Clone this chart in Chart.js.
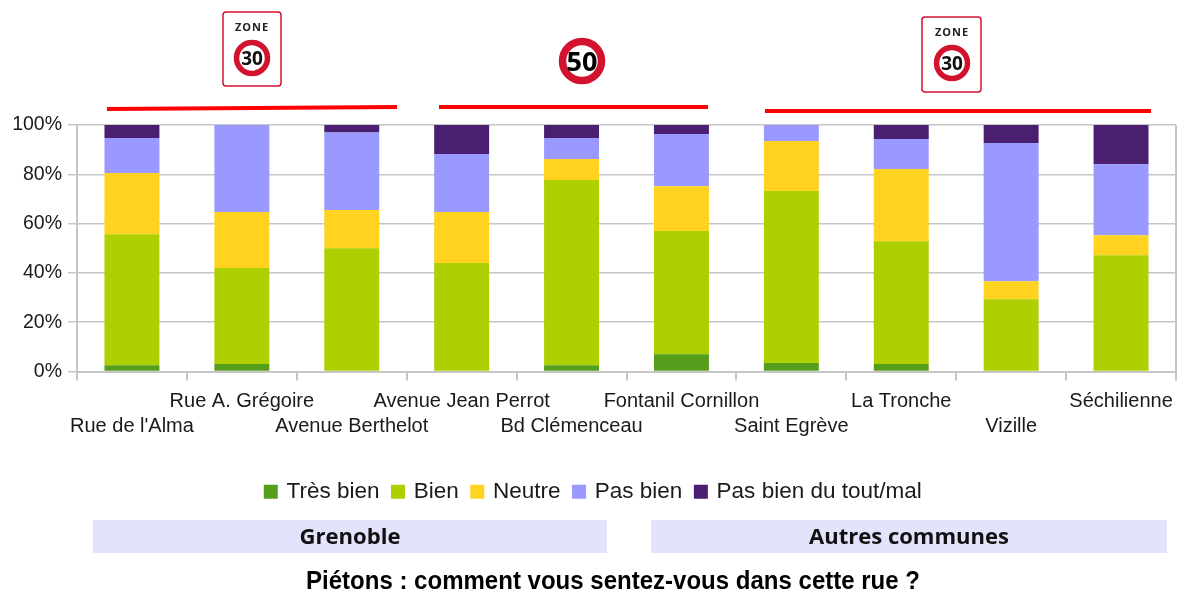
<!DOCTYPE html>
<html lang="fr">
<head>
<meta charset="utf-8">
<title>Piétons : comment vous sentez-vous dans cette rue ?</title>
<script src="https://cdn.jsdelivr.net/npm/chart.js@4"></script>
<style>
  html, body { margin: 0; padding: 0; background: #fff; }
  #wrap { position: relative; width: 1179px; height: 595px; overflow: hidden; }
  #chart { position: absolute; left: 0; top: 0; }
  #overlay { position: absolute; left: 0; top: 0; }
</style>
</head>
<body>
<div id="wrap">
  <canvas id="chart" width="1179" height="595"></canvas>
  <svg id="overlay" width="1179" height="595" xmlns="http://www.w3.org/2000/svg">
    <!-- speed signs -->
    <g id="sign1">
      <rect x="223" y="12" width="58" height="74" rx="3" fill="#fff" stroke="#d2122e" stroke-width="1.5"/>
      <text x="252" y="31" text-anchor="middle" font-family="Open Sans" font-weight="bold" font-size="11" letter-spacing="1" fill="#222">ZONE</text>
      <circle cx="252" cy="58" r="15.5" fill="#fff" stroke="#d2122e" stroke-width="5.5"/>
      <text x="252" y="65" text-anchor="middle" font-family="Open Sans" font-weight="bold" font-size="19" fill="#111">30</text>
    </g>
    <g id="sign2">
      <circle cx="582" cy="61" r="19.5" fill="#fff" stroke="#d2122e" stroke-width="7.5"/>
      <text x="582" y="71" text-anchor="middle" font-family="Open Sans" font-weight="bold" font-size="27" fill="#000">50</text>
    </g>
    <g id="sign3">
      <rect x="922" y="17" width="59" height="75" rx="3" fill="#fff" stroke="#d2122e" stroke-width="1.5"/>
      <text x="952" y="36" text-anchor="middle" font-family="Open Sans" font-weight="bold" font-size="11" letter-spacing="1" fill="#222">ZONE</text>
      <circle cx="952" cy="63" r="15.5" fill="#fff" stroke="#d2122e" stroke-width="5.5"/>
      <text x="952" y="70" text-anchor="middle" font-family="Open Sans" font-weight="bold" font-size="19" fill="#111">30</text>
    </g>
    <!-- red speed-zone lines -->
    <line x1="107" y1="109" x2="397" y2="107" stroke="#f00" stroke-width="4"/>
    <line x1="439" y1="107" x2="708" y2="107" stroke="#f00" stroke-width="4"/>
    <line x1="765" y1="111" x2="1151" y2="111" stroke="#f00" stroke-width="4"/>
    <!-- group bands -->
    <rect x="93" y="520" width="514" height="33" fill="#e3e3fb"/>
    <rect x="651" y="520" width="516" height="33" fill="#e3e3fb"/>
    <text x="350" y="544" text-anchor="middle" font-family="Open Sans" font-weight="bold" font-size="22" textLength="101" lengthAdjust="spacingAndGlyphs" fill="#111">Grenoble</text>
    <text x="909" y="544" text-anchor="middle" font-family="Open Sans" font-weight="bold" font-size="22" textLength="200" lengthAdjust="spacingAndGlyphs" fill="#111">Autres communes</text>
    <text x="613" y="589" text-anchor="middle" font-family="Liberation Sans" font-weight="bold" font-size="26" textLength="614" lengthAdjust="spacingAndGlyphs" fill="#000">Piétons : comment vous sentez-vous dans cette rue ?</text>
  </svg>
</div>
<script>
const rues = ["Rue de l'Alma", 'Rue A. Grégoire', 'Avenue Berthelot', 'Avenue Jean Perrot', 'Bd Clémenceau',
  'Fontanil Cornillon', 'Saint Egrève', 'La Tronche', 'Vizille', 'Séchilienne'];

const tresBien = [2.5, 3, 0, 0, 2.5, 7, 3.4, 3, 0, 0];
const bien = [53.2, 39, 50, 44, 75.2, 50, 69.8, 49.8, 29.3, 47.2];
const neutre = [24.8, 22.7, 15.5, 20.7, 8.5, 18.2, 20.3, 29.3, 7.3, 8.1];
const pasBien = [14.2, 35.3, 31.5, 23.5, 8.5, 21.1, 6.5, 12.2, 56.1, 28.8];
const pasBienDuTout = [5.3, 0, 3, 11.8, 5.3, 3.7, 0, 5.7, 7.3, 15.9];

const gris = '#c6c6c6';
const police = 'Liberation Sans';

const mkSerie = (label, data, color) => ({
  label,
  data,
  backgroundColor: color,
  borderWidth: 0,
  barPercentage: 0.5,
  categoryPercentage: 1
});

new Chart(document.getElementById('chart'), {
  type: 'bar',
  data: {
    labels: rues,
    datasets: [
      mkSerie('Très bien', tresBien, '#579d1c'),
      mkSerie('Bien', bien, '#aecf00'),
      mkSerie('Neutre', neutre, '#ffd320'),
      mkSerie('Pas bien', pasBien, '#9999ff'),
      mkSerie('Pas bien du tout/mal', pasBienDuTout, '#4b1f6f')
    ]
  },
  options: {
    responsive: false,
    animation: false,
    layout: { padding: { top: 125, right: 3, bottom: 82, left: 12 } },
    plugins: {
      title: { display: false },
      tooltip: { enabled: false },
      legend: {
        position: 'bottom',
        labels: {
          color: '#1a1a1a',
          font: { family: police, size: 22.5 },
          // square wider than its slot, so the text sits closer to it
          usePointStyle: true,
          pointStyle: 'rect',
          boxWidth: 9,
          boxHeight: 14,
          padding: 14
        }
      }
    },
    scales: {
      x: {
        stacked: true,
        offset: true,
        afterFit(scale) {
          scale.height = 95;
          // last label overhang would otherwise pull the plot in from the right
          scale.paddingRight = 0;
        },
        grid: { display: true, drawOnChartArea: false, offset: true, color: gris, lineWidth: 2, tickLength: 9 },
        border: { color: gris, width: 2 },
        ticks: {
          color: '#1a1a1a',
          font: { family: police, size: 20, lineHeight: 1.25 },
          maxRotation: 0,
          autoSkip: false,
          padding: 8,
          // labels alternate between two rows
          callback(value, i) { return i % 2 === 0 ? ['', rues[i]] : [rues[i], '']; }
        }
      },
      y: {
        stacked: true,
        min: 0,
        max: 100,
        afterFit(scale) { scale.width = 65; },
        grid: { color: gris, lineWidth: 1.5, tickLength: 9 },
        border: { color: gris, width: 2 },
        ticks: {
          stepSize: 20,
          padding: 6,
          color: '#1a1a1a',
          font: { family: police, size: 19.5 },
          callback: v => v + '%'
        }
      }
    }
  },
  plugins: [{
    // right edge of the plot frame
    id: 'bordDroit',
    beforeDatasetsDraw(chart) {
      const { ctx, chartArea: a } = chart;
      ctx.save();
      ctx.strokeStyle = gris;
      ctx.lineWidth = 2;
      ctx.beginPath();
      ctx.moveTo(a.right, a.top);
      ctx.lineTo(a.right, a.bottom + 9);
      ctx.stroke();
      ctx.restore();
    }
  }]
});
</script>
</body>
</html>
